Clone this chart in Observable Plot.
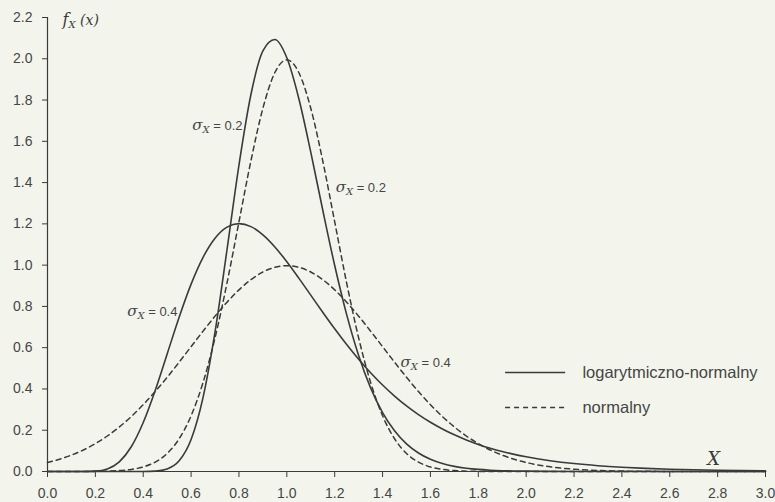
<!DOCTYPE html>
<html><head><meta charset="utf-8">
<script src="https://cdn.jsdelivr.net/npm/d3@7"></script>
<script src="https://cdn.jsdelivr.net/npm/@observablehq/plot@0.6"></script>
<style>
html,body{margin:0;padding:0;background:#f3f5ec;}
#chart{position:relative;width:775px;height:502px;}
svg{display:block;}
</style></head><body><div id="chart"></div>
<script>
// x values at which the curves were read
const xs = [0,0.05,0.1,0.15,0.2,0.25,0.3,0.35,0.4,0.45,0.5,0.55,0.6,0.65,0.7,0.75,0.8,0.85,0.9,0.95,1,1.05,1.1,1.15,1.2,1.25,1.3,1.35,1.4,1.45,1.5,1.55,1.6,1.65,1.7,1.75,1.8,1.85,1.9,1.95,2,2.1,2.2,2.3,2.4,2.5,2.6,2.7,2.8,2.9,3];
const lognormal02 = [0,0,0,0,0,0,0,0,0.0002,0.0020,0.0124,0.0516,0.1549,0.3591,0.6762,1.0746,1.4850,1.8267,2.0380,2.0935,2.0046,1.8074,1.5475,1.2671,0.9982,0.7603,0.5624,0.4054,0.2858,0.1976,0.1342,0.0898,0.0593,0.0387,0.0250,0.0160,0.0101,0.0064,0.0040,0.0025,0.0016,0.0006,0.0002,0,0,0,0,0,0,0,0];
const lognormal04 = [0,0,0,0.0001,0.0018,0.0126,0.0468,0.1198,0.2375,0.3930,0.5698,0.7476,0.9081,1.0381,1.1307,1.1842,1.2012,1.1867,1.1468,1.0881,1.0165,0.9372,0.8545,0.7717,0.6913,0.6150,0.5439,0.4785,0.4191,0.3657,0.3180,0.2758,0.2386,0.2061,0.1776,0.1529,0.1314,0.1129,0.0969,0.0831,0.0712,0.0523,0.0384,0.0282,0.0207,0.0152,0.0112,0.0083,0.0061,0.0045,0.0034];
const normal02 = [0,0,0.0001,0.0002,0.0007,0.0018,0.0044,0.0102,0.0222,0.0455,0.0876,0.1587,0.2700,0.4315,0.6476,0.9132,1.2098,1.5056,1.7603,1.9333,1.9947,1.9333,1.7603,1.5056,1.2098,0.9132,0.6476,0.4315,0.2700,0.1587,0.0876,0.0455,0.0222,0.0102,0.0044,0.0018,0.0007,0.0002,0.0001,0,0,0,0,0,0,0,0,0,0,0,0];
const normal04 = [0.0438,0.0594,0.0794,0.1043,0.1350,0.1720,0.2157,0.2663,0.3238,0.3875,0.4566,0.5297,0.6049,0.6801,0.7528,0.8204,0.8802,0.9296,0.9667,0.9896,0.9974,0.9896,0.9667,0.9296,0.8802,0.8204,0.7528,0.6801,0.6049,0.5297,0.4566,0.3875,0.3238,0.2663,0.2157,0.1720,0.1350,0.1043,0.0794,0.0594,0.0438,0.0227,0.0111,0.0051,0.0022,0.0009,0.0003,0.0001,0,0,0];
const xTicks = [0,0.2,0.4,0.6,0.8,1.0,1.2,1.4,1.6,1.8,2.0,2.2,2.4,2.6,2.8,3.0];
const yTicks = [0,0.2,0.4,0.6,0.8,1.0,1.2,1.4,1.6,1.8,2.0,2.2];
const sigmaValues = ["0.2","0.2","0.4","0.4"];
const legendNames = ["logarytmiczno-normalny","normalny"];

const rows = (ys, kind, s) => xs.map((x, i) => ({x, y: ys[i], kind, s}));
const logData = [...rows(lognormal02, "log", "0.2"), ...rows(lognormal04, "log", "0.4")];
const normData = [...rows(normal02, "norm", "0.2"), ...rows(normal04, "norm", "0.4")];

// annotation anchors (data space)
const labelsEnd = [{x:0.815, y:1.676, t:sigmaValues[0]}, {x:0.543, y:0.775, t:sigmaValues[2]}];
const labelsStart = [{x:1.204, y:1.376, t:sigmaValues[1]}, {x:1.475, y:0.528, t:sigmaValues[3]}];
const legendRows = [{name:legendNames[0], y:0.48, dashed:false}, {name:legendNames[1], y:0.31, dashed:true}];

const ink = "#3a3a3a";
const txt = "#454545";

const plot = Plot.plot({
  width: 775, height: 502,
  marginLeft: 47, marginRight: 10, marginTop: 17, marginBottom: 31,
  style: {background: "#f3f5ec", fontFamily: "Liberation Sans, Arial, sans-serif", color: txt},
  x: {domain: [0, 3], axis: null},
  y: {domain: [0, 2.2], axis: null},
  marks: [
    Plot.axisX({ticks: xTicks, tickFormat: d => d.toFixed(1), tickSize: 6, tickPadding: 11, fontSize: 14, label: null, stroke: ink}),
    Plot.axisY({ticks: yTicks, tickFormat: d => d.toFixed(1), tickSize: 5, tickPadding: 10, fontSize: 14, label: null, stroke: ink}),
    Plot.ruleY([0], {stroke: ink, strokeWidth: 1.2}),
    Plot.ruleX([0], {stroke: ink, strokeWidth: 1.2}),
    Plot.line(normData, {x: "x", y: "y", z: "s", stroke: ink, strokeWidth: 1.5, strokeDasharray: "5,4", curve: "monotone-x"}),
    Plot.line(logData, {x: "x", y: "y", z: "s", stroke: ink, strokeWidth: 1.6, curve: "monotone-x"}),
    Plot.text(labelsEnd, {x: "x", y: "y", text: d => "\u00a7" + d.t, textAnchor: "end", fontSize: 13, fill: txt}),
    Plot.text(labelsStart, {x: "x", y: "y", text: d => "\u00a7" + d.t, textAnchor: "start", fontSize: 13, fill: txt}),
    Plot.ruleY(legendRows.filter(d => !d.dashed), {y: "y", x1: 1.914, x2: 2.165, stroke: ink, strokeWidth: 1.5}),
    Plot.ruleY(legendRows.filter(d => d.dashed), {y: "y", x1: 1.914, x2: 2.165, stroke: ink, strokeWidth: 1.5, strokeDasharray: "5,4"}),
    Plot.text(legendRows, {x: 2.235, y: "y", text: "name", textAnchor: "start", fontSize: 16.5, fill: txt}),
    Plot.text(["X"], {x: 2.783, y: 0.058, text: d => d, fontSize: 18, fontStyle: "italic", fontFamily: "DejaVu Serif, serif", fill: ink}),
    Plot.text(["\u00b6fx"], {x: 0.063, y: 2.185, text: d => d, textAnchor: "start", fontSize: 14, fill: ink})
  ]
});

const NS = "http://www.w3.org/2000/svg";
function ts(parent, str, attrs) {
  const t = document.createElementNS(NS, "tspan");
  t.textContent = str;
  for (const k in attrs) t.setAttribute(k, attrs[k]);
  parent.appendChild(t);
}
plot.querySelectorAll('text').forEach(t => {
  const c = t.textContent;
  if (c.startsWith("\u00a7")) {
    const v = c.slice(1);
    t.textContent = "";
    ts(t, "σ", {"font-style": "italic", "font-family": "DejaVu Serif, serif", "font-size": 15});
    ts(t, "X", {"font-style": "italic", "font-family": "DejaVu Serif, serif", "font-size": 10, dy: 3});
    ts(t, " = " + v, {dy: -3});
  } else if (c.startsWith("\u00b6")) {
    t.textContent = "";
    ts(t, "f", {"font-style": "italic", "font-family": "DejaVu Serif, serif", "font-size": 16});
    ts(t, "X", {"font-style": "italic", "font-family": "DejaVu Serif, serif", "font-size": 10, dy: 3});
    ts(t, " (x)", {"font-style": "italic", "font-family": "DejaVu Serif, serif", "font-size": 14, dy: -3});
  }
});

document.getElementById("chart").appendChild(plot);
</script>
</body></html>
